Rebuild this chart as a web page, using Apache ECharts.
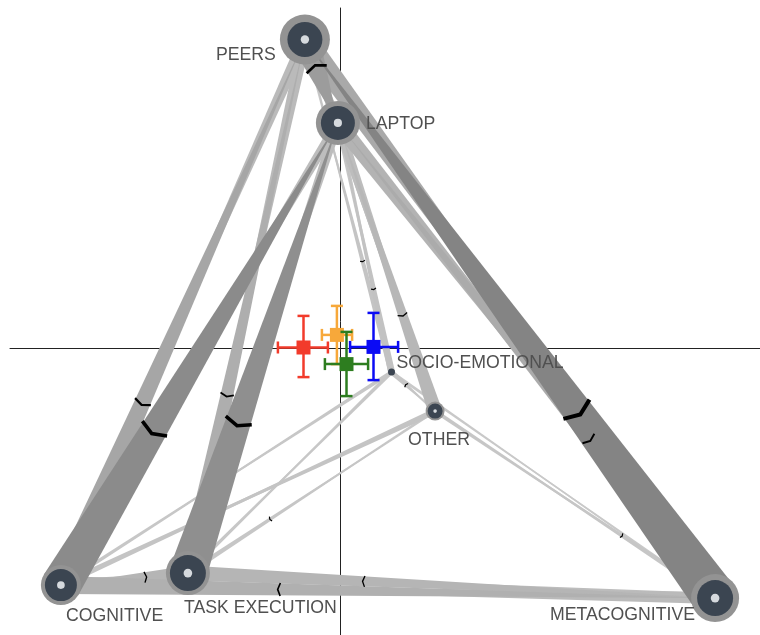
<!DOCTYPE html>
<html>
<head>
<meta charset="utf-8">
<script src="https://cdn.jsdelivr.net/npm/echarts@6/dist/echarts.min.js"></script>
<style>
  html, body { margin: 0; padding: 0; background: #ffffff; }
  #chart { width: 760px; height: 635px; }
</style>
</head>
<body>
<div id="chart"></div>
<script>
// ---- network nodes ----
const nodeNames   = ['PEERS', 'LAPTOP', 'SOCIO-EMOTIONAL', 'OTHER', 'COGNITIVE', 'TASK EXECUTION', 'METACOGNITIVE'];
const nodeX       = [-0.178, -0.013, 0.255, 0.473, -1.398, -0.763, 1.873];
const nodeY       = [1.545, 1.128, -0.118, -0.313, -1.183, -1.123, -1.248];
const nodeWeights = [0.175, 0.170, 0.035, 0.075, 0.160, 0.180, 0.180];
const selfWeights = [0.250, 0.220, 0.000, 0.095, 0.200, 0.220, 0.240];

// ---- directed connections: weight of the arrow that widens at edgeFrom ----
const edgeFrom = [
  'PEERS', 'LAPTOP', 'PEERS', 'SOCIO-EMOTIONAL', 'PEERS', 'OTHER',
  'PEERS', 'COGNITIVE', 'PEERS', 'TASK EXECUTION', 'PEERS', 'METACOGNITIVE',
  'LAPTOP', 'SOCIO-EMOTIONAL', 'LAPTOP', 'OTHER', 'LAPTOP', 'COGNITIVE',
  'LAPTOP', 'TASK EXECUTION', 'LAPTOP', 'METACOGNITIVE',
  'SOCIO-EMOTIONAL', 'OTHER', 'SOCIO-EMOTIONAL', 'COGNITIVE', 'SOCIO-EMOTIONAL', 'TASK EXECUTION',
  'SOCIO-EMOTIONAL', 'METACOGNITIVE', 'OTHER', 'COGNITIVE', 'OTHER', 'TASK EXECUTION',
  'OTHER', 'METACOGNITIVE', 'COGNITIVE', 'TASK EXECUTION', 'COGNITIVE', 'METACOGNITIVE',
  'TASK EXECUTION', 'METACOGNITIVE'
];
const edgeTo = [
  'LAPTOP', 'PEERS', 'SOCIO-EMOTIONAL', 'PEERS', 'OTHER', 'PEERS',
  'COGNITIVE', 'PEERS', 'TASK EXECUTION', 'PEERS', 'METACOGNITIVE', 'PEERS',
  'SOCIO-EMOTIONAL', 'LAPTOP', 'OTHER', 'LAPTOP', 'COGNITIVE', 'LAPTOP',
  'TASK EXECUTION', 'LAPTOP', 'METACOGNITIVE', 'LAPTOP',
  'OTHER', 'SOCIO-EMOTIONAL', 'COGNITIVE', 'SOCIO-EMOTIONAL', 'TASK EXECUTION', 'SOCIO-EMOTIONAL',
  'METACOGNITIVE', 'SOCIO-EMOTIONAL', 'COGNITIVE', 'OTHER', 'TASK EXECUTION', 'OTHER',
  'METACOGNITIVE', 'OTHER', 'TASK EXECUTION', 'COGNITIVE', 'METACOGNITIVE', 'COGNITIVE',
  'METACOGNITIVE', 'TASK EXECUTION'
];
const edgeWeights = [
  0.30, 0.12, 0.03, 0.06, 0.04, 0.04,
  0.12, 0.24, 0.12, 0.19, 0.22, 0.45,
  0.05, 0.07, 0.10, 0.14, 0.10, 0.40,
  0.10, 0.38, 0.16, 0.21,
  0.05, 0.03, 0.04, 0.04, 0.04, 0.04,
  0.03, 0.03, 0.06, 0.06, 0.03, 0.05,
  0.04, 0.05, 0.12, 0.15, 0.18, 0.12,
  0.15, 0.10
];

// ---- group means with confidence intervals ----
const meanColors = ['#f23b2b', '#f7a83a', '#2d7d1f', '#0b0bf5'];
const meanX  = [-0.185, -0.018, 0.030, 0.165];
const meanY  = [0.005, 0.068, -0.078, 0.008];
const ciXLow  = [-0.313, -0.093, -0.078, 0.048];
const ciXHigh = [-0.063, 0.058, 0.138, 0.288];
const ciYLow  = [-0.143, -0.078, -0.238, -0.158];
const ciYHigh = [0.163, 0.213, 0.083, 0.178];

// ---- drawing constants ----
const PX = 100;                 // pixels per unit of weight
const LABEL_FONT = '"Liberation Sans", Arial, sans-serif';
const labelLayout = {           // [align, dx, dy] relative to node centre, in px
  'PEERS': ['right', -29, 16],
  'LAPTOP': ['left', 28, 1],
  'SOCIO-EMOTIONAL': ['left', 5, -9],
  'OTHER': ['left', -27, 29],
  'COGNITIVE': ['left', 5, 31],
  'TASK EXECUTION': ['left', -4, 35],
  'METACOGNITIVE': ['right', -20, 17]
};

function shade(wpx) {
  const g = Math.round(Math.max(132, 206 - (wpx / 42) * 70));
  return 'rgb(' + g + ',' + g + ',' + g + ')';
}

const idx = name => nodeNames.indexOf(name);

// edge items sorted so heavier arrows lie on top
const edgeData = edgeFrom.map((f, i) => {
  const a = idx(f), b = idx(edgeTo[i]);
  let rev = 0;
  for (let k = 0; k < edgeFrom.length; k++) {
    if (edgeFrom[k] === edgeTo[i] && edgeTo[k] === f) rev = edgeWeights[k];
  }
  return [nodeX[a], nodeY[a], nodeX[b], nodeY[b], edgeWeights[i], rev];
}).sort((p, q) => p[4] - q[4]);

const nodeData = nodeNames.map((n, i) => [nodeX[i], nodeY[i], nodeWeights[i], selfWeights[i], i]);
const meanData = meanX.map((x, i) => [x, meanY[i], ciXLow[i], ciXHigh[i], ciYLow[i], ciYHigh[i], i]);

function renderEdge(params, api) {
  const pa = api.coord([api.value(0), api.value(1)]);
  const pb = api.coord([api.value(2), api.value(3)]);
  const wpx = api.value(4) * PX;
  const dx = pb[0] - pa[0], dy = pb[1] - pa[1];
  const L = Math.hypot(dx, dy);
  const nx = -dy / L, ny = dx / L, h = wpx / 2;
  return {
    type: 'polygon',
    shape: { points: [[pa[0] + nx * h, pa[1] + ny * h], [pa[0] - nx * h, pa[1] - ny * h], pb] },
    style: { fill: shade(wpx), stroke: null }
  };
}

// chevron at the centroid of the stronger arrow of each pair, pointing to its wide end
function renderChevron(params, api) {
  const w = api.value(4), rev = api.value(5);
  if (w <= rev) return null;
  const pa = api.coord([api.value(0), api.value(1)]);
  const pb = api.coord([api.value(2), api.value(3)]);
  const wpx = w * PX;
  const dx = pa[0] - pb[0], dy = pa[1] - pb[1];
  const L = Math.hypot(dx, dy);
  const ux = dx / L, uy = dy / L, nx = -uy, ny = ux;
  const cx = pa[0] - dx / 3, cy = pa[1] - dy / 3;
  const half = Math.max(2.5, wpx * 0.36);
  const depth = half * 0.4;
  return {
    type: 'polyline',
    shape: { points: [
      [cx - ux * depth / 2 + nx * half, cy - uy * depth / 2 + ny * half],
      [cx + ux * depth / 2, cy + uy * depth / 2],
      [cx - ux * depth / 2 - nx * half, cy - uy * depth / 2 - ny * half]
    ] },
    style: { stroke: '#000', lineWidth: Math.max(1.2, wpx / 11), fill: null, lineJoin: 'miter' }
  };
}

function renderNode(params, api) {
  const p = api.coord([api.value(0), api.value(1)]);
  const r = api.value(2) * PX, rs = api.value(3) * PX;
  const children = [];
  if (rs > 0) children.push({ type: 'circle', shape: { cx: p[0], cy: p[1], r: rs }, style: { fill: '#939393' } });
  children.push({ type: 'circle', shape: { cx: p[0], cy: p[1], r: r }, style: { fill: '#3b4551' } });
  if (r > 6) children.push({ type: 'circle', shape: { cx: p[0], cy: p[1], r: Math.max(1.5, r * 0.24) }, style: { fill: '#d6dade' } });
  return { type: 'group', children: children };
}

function renderLabel(params, api) {
  const p = api.coord([api.value(0), api.value(1)]);
  const name = nodeNames[api.value(4)];
  const lay = labelLayout[name];
  return {
    type: 'text',
    style: {
      text: name, x: p[0] + lay[1], y: p[1] + lay[2],
      align: lay[0], verticalAlign: 'middle',
      fill: '#505050', fontSize: 17.7, fontFamily: LABEL_FONT
    }
  };
}

function renderMean(params, api) {
  const c = api.coord([api.value(0), api.value(1)]);
  const xl = api.coord([api.value(2), api.value(1)])[0];
  const xh = api.coord([api.value(3), api.value(1)])[0];
  const yl = api.coord([api.value(0), api.value(4)])[1];
  const yh = api.coord([api.value(0), api.value(5)])[1];
  const col = meanColors[api.value(6)];
  const cap = 6, sq = 7;
  const ls = { stroke: col, lineWidth: 2.5 };
  return {
    type: 'group',
    children: [
      { type: 'line', shape: { x1: xl, y1: c[1], x2: xh, y2: c[1] }, style: ls },
      { type: 'line', shape: { x1: c[0], y1: yl, x2: c[0], y2: yh }, style: ls },
      { type: 'line', shape: { x1: xl, y1: c[1] - cap, x2: xl, y2: c[1] + cap }, style: ls },
      { type: 'line', shape: { x1: xh, y1: c[1] - cap, x2: xh, y2: c[1] + cap }, style: ls },
      { type: 'line', shape: { x1: c[0] - cap, y1: yl, x2: c[0] + cap, y2: yl }, style: ls },
      { type: 'line', shape: { x1: c[0] - cap, y1: yh, x2: c[0] + cap, y2: yh }, style: ls },
      { type: 'rect', shape: { x: c[0] - sq, y: c[1] - sq, width: 2 * sq, height: 2 * sq }, style: { fill: col } }
    ]
  };
}

const chart = echarts.init(document.getElementById('chart'), null, { renderer: 'canvas' });
chart.setOption({
  animation: false,
  backgroundColor: '#ffffff',
  grid: { left: 10, right: 0, top: 8, bottom: 0 },
  xAxis: {
    type: 'value', min: -1.6525, max: 2.0975,
    axisLine: { show: true, onZero: true, lineStyle: { color: '#222', width: 1 } },
    axisTick: { show: false }, axisLabel: { show: false }, splitLine: { show: false }
  },
  yAxis: {
    type: 'value', min: -1.4325, max: 1.7025,
    axisLine: { show: true, onZero: true, lineStyle: { color: '#222', width: 1 } },
    axisTick: { show: false }, axisLabel: { show: false }, splitLine: { show: false }
  },
  series: [
    { type: 'custom', name: 'edges', data: edgeData, renderItem: renderEdge, clip: false, z: 2, silent: true },
    { type: 'custom', name: 'direction', data: edgeData, renderItem: renderChevron, clip: false, z: 3, silent: true },
    { type: 'custom', name: 'nodes', data: nodeData, renderItem: renderNode, clip: false, z: 4, silent: true },
    { type: 'custom', name: 'labels', data: nodeData, renderItem: renderLabel, clip: false, z: 5, silent: true },
    { type: 'custom', name: 'means', data: meanData, renderItem: renderMean, clip: false, z: 6, silent: true }
  ]
});
</script>
</body>
</html>
